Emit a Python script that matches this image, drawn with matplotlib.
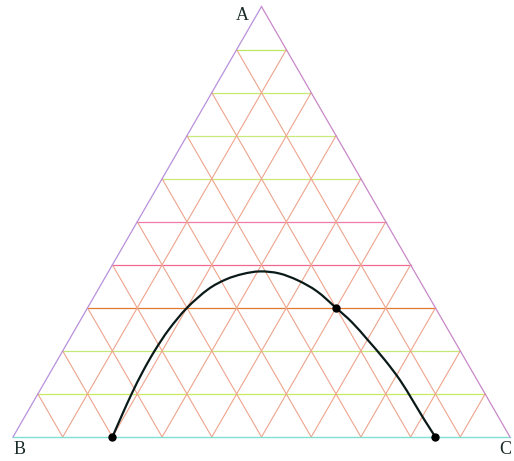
import numpy as np
import matplotlib.pyplot as plt
from matplotlib.path import Path
from matplotlib.patches import PathPatch

# composition along the curve (fractions of A and C, B is the rest)
curve_a = [0.0, 0.051, 0.102, 0.153, 0.2016, 0.2503, 0.30, 0.343, 0.3662,
           0.3789, 0.3847, 0.3801, 0.3638, 0.3384, 0.30, 0.2665, 0.2248,
           0.1784, 0.1321, 0.0857, 0.0394, 0.0]
curve_c = [0.20, 0.1938, 0.1884, 0.1851, 0.1849, 0.1888, 0.20, 0.2209,
           0.2455, 0.2734, 0.3046, 0.3452, 0.3915, 0.4425, 0.50, 0.5488,
           0.6019, 0.6593, 0.7127, 0.7609, 0.8083, 0.85]

# marked compositions
point_a = [0.0, 0.30, 0.0]
point_c = [0.20, 0.50, 0.85]

vertex_labels = ['A', 'B', 'C']

# colours of the lines of constant A, from A=0 up to A=0.9
level_colors = ['#7fe0d4', '#c8ea60', '#c4e878', '#e07a30', '#f06890',
                '#f07aa8', '#cdea78', '#c8ea78', '#c4ea70', '#bce860']
slant_color = '#eea48c'


def to_xy(a, c):
    a = np.asarray(a, dtype=float)
    c = np.asarray(c, dtype=float)
    return c + a / 2, a * np.sqrt(3) / 2


def smooth_path(x, y):
    # cubic bezier segments through every point (Catmull-Rom tangents)
    pts = np.column_stack([x, y])
    verts = [pts[0]]
    codes = [Path.MOVETO]
    n = len(pts)
    for i in range(n - 1):
        p0 = pts[max(i - 1, 0)]
        p1 = pts[i]
        p2 = pts[i + 1]
        p3 = pts[min(i + 2, n - 1)]
        verts += [p1 + (p2 - p0) / 6, p2 - (p3 - p1) / 6, p2]
        codes += [Path.CURVE4] * 3
    return Path(verts, codes)


fig = plt.figure(figsize=(5.14, 4.61), dpi=100)
ax = fig.add_axes([0, 0, 1, 1])
ax.set_xlim(-13 / 497, 501 / 497)
ax.set_ylim(-24 / 497, 437 / 497)
ax.axis('off')

ticks = np.arange(1, 10) / 10

# lines parallel to BC (constant A)
for i, a in enumerate(ticks, start=1):
    x, y = to_xy([a, a], [0, 1 - a])
    ax.plot(x, y, color=level_colors[i], lw=0.9, zorder=1)

# lines of constant C and constant B
for v in ticks:
    x, y = to_xy([0, 1 - v], [v, v])
    ax.plot(x, y, color=slant_color, lw=0.8, zorder=1)
    x, y = to_xy([0, 1 - v], [1 - v, 0])
    ax.plot(x, y, color=slant_color, lw=0.8, zorder=1)

# triangle edges
x, y = to_xy([0, 0], [0, 1])
ax.plot(x, y, color=level_colors[0], lw=1.0, zorder=2)
x, y = to_xy([0, 1], [0, 0])
ax.plot(x, y, color='#b890dc', lw=0.9, zorder=2)
x, y = to_xy([0, 1], [1, 0])
ax.plot(x, y, color='#c888c8', lw=0.9, zorder=2)

# curve and points
x, y = to_xy(curve_a, curve_c)
ax.add_patch(PathPatch(smooth_path(x, y), fill=False, edgecolor='#0a1a18',
                       lw=1.6, zorder=3))
x, y = to_xy(point_a, point_c)
ax.plot(x, y, 'o', color='black', ms=5, ls='none', zorder=4)

font = dict(family='Liberation Serif', fontsize=13, color='#1a2a28')
ax.text(0.461, 0.849, vertex_labels[0], ha='center', va='center', **font)
ax.text(0.014, -0.026, vertex_labels[1], ha='center', va='center', **font)
ax.text(0.990, -0.026, vertex_labels[2], ha='center', va='center', **font)

fig.savefig('out.png', dpi=100)
